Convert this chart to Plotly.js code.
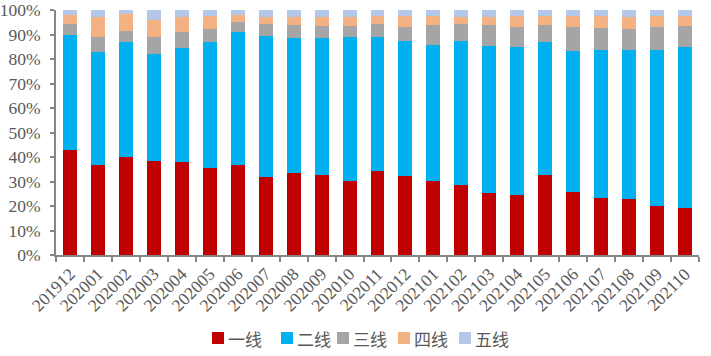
<!DOCTYPE html>
<html>
<head>
<meta charset="utf-8">
<script src="https://cdn.plot.ly/plotly-3.0.1.min.js"></script>
<style>html,body{margin:0;padding:0;background:#fff;}#chart{width:711px;height:356px;}</style>
</head>
<body>
<div id="chart"></div>
<script>
const months = ['201912','202001','202002','202003','202004','202005','202006','202007','202008','202009','202010','202011','202012','202101','202102','202103','202104','202105','202106','202107','202108','202109','202110'];
const tier1 = [42.9,36.7,40.0,38.4,38.0,35.5,36.7,31.8,33.5,32.7,30.2,34.3,32.2,30.2,28.6,25.3,24.5,32.7,25.7,23.3,22.9,20.0,19.2];
const tier2 = [46.9,46.2,46.9,43.6,46.5,51.4,54.3,57.6,55.1,55.9,58.8,54.7,55.1,55.5,58.7,60.0,60.4,54.2,57.6,60.4,60.8,63.7,65.7];
const tier3 = [4.5,6.1,4.5,7.0,6.5,5.3,4.1,4.9,5.3,4.9,4.5,5.3,5.8,8.2,7.0,8.6,8.2,7.0,9.8,9.0,8.5,9.4,8.6];
const tier4 = [3.7,8.1,7.1,6.9,6.1,5.4,2.9,2.8,3.2,3.6,3.6,3.3,4.5,3.7,2.8,3.2,4.5,3.7,4.5,4.9,4.9,4.5,4.1];
const tier5 = [2.0,2.9,1.5,4.1,2.9,2.4,2.0,2.9,2.9,2.9,2.9,2.4,2.4,2.4,2.9,2.9,2.4,2.4,2.4,2.4,2.9,2.4,2.4];
const names = ['一线','二线','三线','四线','五线'];
const colors = ['#C00000','#00B0F0','#A5A5A5','#F4B183','#B4C7E7'];
const series = [tier1,tier2,tier3,tier4,tier5];

const traces = series.map((vals,i)=>({
  type:'bar', x:months, y:vals, name:names[i],
  marker:{color:colors[i], line:{width:0}},
  hoverinfo:'x+y+name', showlegend:false
}));

// Custom legend (layout positions in pixels, converted to paper coords)
const W = 711, H = 356, M = {l:56, r:12, t:10, b:101};
const pw = W - M.l - M.r, ph = H - M.t - M.b;
const px2x = px => (px - M.l) / pw;
const py2y = py => (H - M.b - py) / ph;
const legendLeft = [212, 281, 337, 398, 459];
const legendMid = 338, sq = 12;
const shapes = [], annotations = [];
names.forEach((n,i)=>{
  const x0 = legendLeft[i];
  shapes.push({type:'rect', xref:'paper', yref:'paper',
    x0:px2x(x0), x1:px2x(x0+sq), y0:py2y(legendMid+sq/2), y1:py2y(legendMid-sq/2),
    fillcolor:colors[i], line:{width:0}});
  annotations.push({xref:'paper', yref:'paper', x:px2x(x0+sq+2), y:py2y(legendMid),
    xanchor:'left', yanchor:'middle', showarrow:false, text:n,
    font:{family:'"Noto Sans CJK SC", sans-serif', size:17, color:'#595959'}});
});

const tickFont = {family:'"Liberation Serif", "Times New Roman", serif', size:17.5, color:'#595959'};
const layout = {
  width:W, height:H,
  margin:M,
  barmode:'stack', bargap:0.5,
  paper_bgcolor:'#fff', plot_bgcolor:'#fff',
  showlegend:false,
  shapes:shapes, annotations:annotations,
  xaxis:{type:'category', tickangle:-45, tickfont:tickFont, showgrid:false, zeroline:false,
         showline:true, linecolor:'#868686', linewidth:2, ticks:'outside', tickson:'boundaries',
         ticklen:5, tickwidth:2, tickcolor:'#868686', fixedrange:true},
  yaxis:{range:[0,100], dtick:10, ticksuffix:'%', tickfont:tickFont, showgrid:false, zeroline:false,
         showline:true, linecolor:'#868686', linewidth:2, ticks:'outside', ticklen:4, tickwidth:2,
         tickcolor:'#868686', ticklabelstandoff:6, fixedrange:true}
};
Plotly.newPlot('chart', traces, layout, {displayModeBar:false, staticPlot:true});
</script>
</body>
</html>
